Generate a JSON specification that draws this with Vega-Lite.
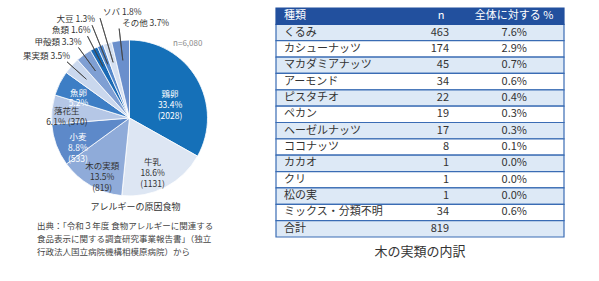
{
  "$schema": "https://vega.github.io/schema/vega-lite/v6.json",
  "padding": 0,
  "background": "white",
  "config": {
    "view": {"stroke": null},
    "font": "Noto Sans CJK JP",
    "title": {"font": "Noto Sans CJK JP", "fontWeight": "normal", "color": "#333333"}
  },
  "datasets": {
    "allergens": [
      {"order": 1, "name": "鶏卵", "pct": 33.4, "label": "鶏卵\n33.4%\n(2028)"},
      {"order": 2, "name": "牛乳", "pct": 18.6, "label": "牛乳\n18.6%\n(1131)"},
      {"order": 3, "name": "木の実類", "pct": 13.5, "label": "木の実類\n13.5%\n(819)"},
      {"order": 4, "name": "小麦", "pct": 8.8, "label": "小麦\n8.8%\n(533)"},
      {"order": 5, "name": "落花生", "pct": 6.1, "label": "落花生\n6.1% (370)"},
      {"order": 6, "name": "魚卵", "pct": 5.2, "label": "魚卵　\n　5.2%"},
      {"order": 7, "name": "果実類", "pct": 3.5, "label": "果実類 3.5%"},
      {"order": 8, "name": "甲殻類", "pct": 3.3, "label": "甲殻類 3.3%"},
      {"order": 9, "name": "魚類", "pct": 1.6, "label": "魚類 1.6%"},
      {"order": 10, "name": "大豆", "pct": 1.3, "label": "大豆 1.3%"},
      {"order": 11, "name": "ソバ", "pct": 1.8, "label": "ソバ 1.8%"},
      {"order": 12, "name": "その他", "pct": 3.7, "label": "その他  3.7%"}
    ],
    "sample": [{"label": "n=6,080"}],
    "nuts": [
      {"row": "くるみ", "n": 463, "pct": "7.6%"},
      {"row": "カシューナッツ", "n": 174, "pct": "2.9%"},
      {"row": "マカダミアナッツ", "n": 45, "pct": "0.7%"},
      {"row": "アーモンド", "n": 34, "pct": "0.6%"},
      {"row": "ピスタチオ", "n": 22, "pct": "0.4%"},
      {"row": "ペカン", "n": 19, "pct": "0.3%"},
      {"row": "ヘーゼルナッツ", "n": 17, "pct": "0.3%"},
      {"row": "ココナッツ", "n": 8, "pct": "0.1%"},
      {"row": "カカオ", "n": 1, "pct": "0.0%"},
      {"row": "クリ", "n": 1, "pct": "0.0%"},
      {"row": "松の実", "n": 1, "pct": "0.0%"},
      {"row": "ミックス・分類不明", "n": 34, "pct": "0.6%"},
      {"row": "合計", "n": 819, "pct": ""}
    ],
    "nutsHeader": [{"row": "種類", "n": "n", "pct": "全体に対する %"}]
  },
  "title": {
    "text": ["出典：「令和３年度  食物アレルギーに関連する", "食品表示に関する調査研究事業報告書」（独立", "行政法人国立病院機構相模原病院）から"],
    "orient": "bottom",
    "anchor": "start",
    "dx": 37,
    "offset": -37,
    "fontSize": 8.5,
    "lineHeight": 13,
    "color": "#444444"
  },
  "spacing": 16,
  "hconcat": [
    {
      "width": 259,
      "height": 236,
      "title": {"text": "アレルギーの原因食物", "orient": "bottom", "anchor": "middle", "dx": 6, "offset": -33, "fontSize": 9},
      "data": {"name": "allergens"},
      "layer": [
        {
          "mark": {"type": "arc", "outerRadius": 78, "stroke": "white", "strokeWidth": 0.8},
          "encoding": {
            "theta": {"field": "pct", "type": "quantitative", "stack": true},
            "order": {"field": "order", "type": "quantitative"},
            "color": {
              "field": "name", "type": "nominal", "legend": null,
              "scale": {
                "domain": ["鶏卵", "牛乳", "木の実類", "小麦", "落花生", "魚卵", "果実類", "甲殻類", "魚類", "大豆", "ソバ", "その他"],
                "range": ["#1570b8", "#dde6f3", "#8fabd9", "#5d89c9", "#b5c7e6", "#3d7ec5", "#cad8ee", "#7f9fd3", "#1a6ab5", "#5488cb", "#d5e0f1", "#6a8fcc"]
              }
            }
          }
        },
        {
          "mark": {
            "type": "arc", "padAngle": 1, "innerRadius": 58, "filled": false, "stroke": "#444444", "strokeWidth": 0.8,
            "outerRadius": {"expr": "datum.name === '果実類' ? 84 : datum.name === '甲殻類' ? 87 : datum.name === '魚類' ? 92 : datum.name === '大豆' ? 100 : datum.name === 'ソバ' ? 104 : 90"}
          },
          "encoding": {
            "theta": {"field": "pct", "type": "quantitative", "stack": true},
            "order": {"field": "order", "type": "quantitative"},
            "strokeOpacity": {"condition": {"test": "datum.order > 6", "value": 1}, "value": 0}
          }
        },
        {
          "mark": {
            "type": "text", "fontSize": 8.5, "lineBreak": "\n",
            "lineHeight": {"expr": "datum.name === '魚卵' ? 10 : datum.name === '落花生' ? 10.5 : 11"},
            "radius": {"expr": "datum.name === '鶏卵' ? 47 : datum.name === '牛乳' ? 50 : datum.name === '落花生' ? 63 : datum.name === '魚卵' ? 57 : 55"}
          },
          "encoding": {
            "theta": {"field": "pct", "type": "quantitative", "stack": true},
            "order": {"field": "order", "type": "quantitative"},
            "text": {"condition": {"test": "datum.order <= 6", "field": "label"}, "value": ""},
            "color": {"condition": {"test": "indexof(['鶏卵', '小麦', '魚卵'], datum.name) >= 0", "value": "white"}, "value": "#333333"}
          }
        },
        {
          "mark": {
            "type": "text", "fontSize": 8.5, "baseline": "bottom", "dx": 3, "dy": -1, "color": "#333333",
            "radius": {"expr": "datum.name === '果実類' ? 84 : datum.name === '甲殻類' ? 87 : datum.name === '魚類' ? 92 : datum.name === '大豆' ? 100 : datum.name === 'ソバ' ? 104 : 90"},
            "align": {"expr": "(datum.name === 'ソバ' || datum.name === 'その他') ? 'left' : 'right'"}
          },
          "encoding": {
            "theta": {"field": "pct", "type": "quantitative", "stack": true},
            "order": {"field": "order", "type": "quantitative"},
            "text": {"condition": {"test": "datum.order > 6", "field": "label"}, "value": ""}
          }
        },
        {
          "data": {"name": "sample"},
          "mark": {"type": "text", "fontSize": 8, "radius": 94, "color": "#8a8a8a"},
          "encoding": {
            "theta": {"datum": 10.72, "type": "quantitative"},
            "text": {"field": "label"}
          }
        }
      ]
    },
    {
      "width": 288,
      "height": 237,
      "title": {"text": "木の実類の内訳", "orient": "bottom", "anchor": "middle", "offset": 8, "fontSize": 13},
      "encoding": {
        "y": {
          "field": "row", "type": "nominal", "axis": null,
          "scale": {
            "type": "band",
            "domain": ["種類", "くるみ", "カシューナッツ", "マカダミアナッツ", "アーモンド", "ピスタチオ", "ペカン", "ヘーゼルナッツ", "ココナッツ", "カカオ", "クリ", "松の実", "ミックス・分類不明", "合計"],
            "range": [8, 237],
            "paddingInner": 0,
            "paddingOuter": 0
          }
        }
      },
      "layer": [
        {
          "data": {"name": "nuts"},
          "transform": [{"window": [{"op": "row_number", "as": "i"}]}],
          "mark": {"type": "rect", "stroke": "#3a6cb4", "strokeWidth": 1.2},
          "encoding": {
            "fill": {"condition": {"test": "datum.i % 2 == 1", "value": "#dde9f6"}, "value": "#ffffff"}
          }
        },
        {
          "data": {"name": "nutsHeader"},
          "mark": {"type": "rect", "fill": "#22509e", "stroke": "#22509e", "strokeWidth": 1.2},
          "encoding": {}
        },
        {
          "data": {"name": "nuts"},
          "mark": {"type": "text", "align": "left", "dx": 8, "fontSize": 11, "color": "#333333"},
          "encoding": {
            "x": {"datum": "種類", "type": "nominal", "bandPosition": 0, "axis": null,
                  "scale": {"type": "band", "domain": ["種類", "n", "全体に対する %"], "paddingInner": 0, "paddingOuter": 0}},
            "text": {"field": "row"}
          }
        },
        {
          "data": {"name": "nuts"},
          "mark": {"type": "text", "align": "right", "dx": -19, "fontSize": 11, "color": "#333333"},
          "encoding": {
            "x": {"datum": "n", "type": "nominal", "bandPosition": 1, "axis": null},
            "text": {"field": "n"}
          }
        },
        {
          "data": {"name": "nuts"},
          "mark": {"type": "text", "align": "right", "dx": -37, "fontSize": 11, "color": "#333333"},
          "encoding": {
            "x": {"datum": "全体に対する %", "type": "nominal", "bandPosition": 1, "axis": null},
            "text": {"field": "pct"}
          }
        },
        {
          "data": {"name": "nutsHeader"},
          "mark": {"type": "text", "align": "left", "dx": 8, "fontSize": 11, "color": "white"},
          "encoding": {
            "x": {"datum": "種類", "type": "nominal", "bandPosition": 0, "axis": null},
            "text": {"field": "row"}
          }
        },
        {
          "data": {"name": "nutsHeader"},
          "mark": {"type": "text", "align": "center", "dx": 21, "fontSize": 11, "color": "white"},
          "encoding": {
            "x": {"datum": "n", "type": "nominal", "bandPosition": 0.5, "axis": null},
            "text": {"field": "n"}
          }
        },
        {
          "data": {"name": "nutsHeader"},
          "mark": {"type": "text", "align": "center", "dx": -2, "fontSize": 11, "color": "white"},
          "encoding": {
            "x": {"datum": "全体に対する %", "type": "nominal", "bandPosition": 0.5, "axis": null},
            "text": {"field": "pct"}
          }
        }
      ]
    }
  ]
}
